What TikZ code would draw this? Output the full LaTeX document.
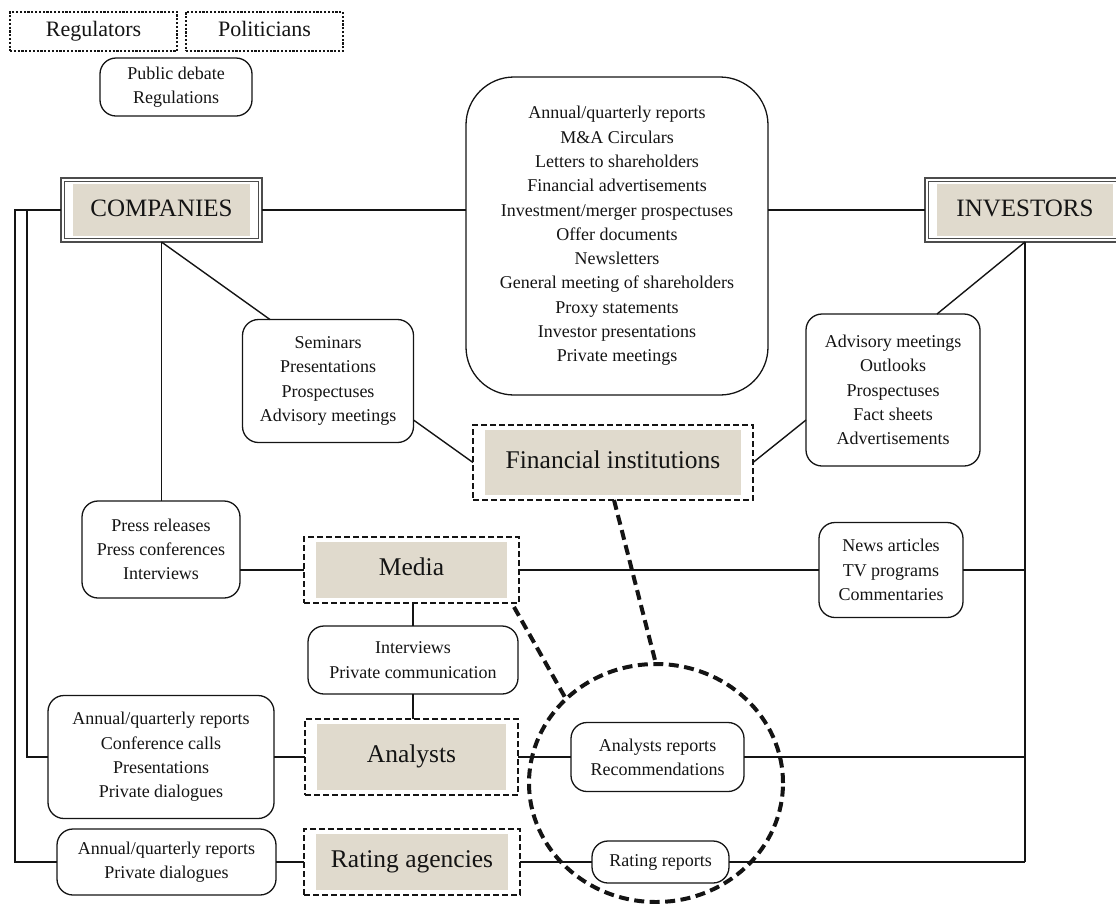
\documentclass[tikz,border=0pt]{standalone}
\usepackage{fontspec}
\setmainfont{Liberation Serif}
\usetikzlibrary{shapes.geometric,calc}
\definecolor{beige}{RGB}{224,218,205}
\definecolor{ink}{RGB}{20,20,20}
\begin{document}
\begin{tikzpicture}[x=1pt,y=-1pt,
  every node/.style={inner sep=0pt, outer sep=0pt, align=center, text=ink},
  sm/.style={font=\fontsize{18}{24.3}\selectfont},
  lg/.style={font=\fontsize{25.5}{30}\selectfont, text height=17pt, text depth=6pt},
  rbox/.style={sm, draw=ink, line width=1.3pt, rounded corners=16pt},
  dotbox/.style={font=\fontsize{22}{26}\selectfont, text height=15pt, text depth=5pt, draw=ink, line width=2.8pt, dash pattern=on 2.2pt off 1.6pt},
  dbox/.style={lg, draw=ink, line width=2.3pt, dash pattern=on 6pt off 3pt,
    path picture={\fill[beige] ([xshift=12pt,yshift=-5pt]path picture bounding box.north west) rectangle ([xshift=-12pt,yshift=5pt]path picture bounding box.south east);}},
  cbox/.style={font=\fontsize{25}{30}\selectfont, text height=17pt, text depth=5pt, draw=black!70, line width=2pt,
    path picture={\fill[beige] ([xshift=12pt,yshift=-6pt]path picture bounding box.north west) rectangle ([xshift=-12pt,yshift=6pt]path picture bounding box.south east);
      \draw[black!70, line width=1.2pt] ([xshift=3.8pt,yshift=-3.8pt]path picture bounding box.north west) rectangle ([xshift=-3.8pt,yshift=3.8pt]path picture bounding box.south east);}},
  ln/.style={draw=ink, line width=1.4pt},
  thickdash/.style={draw=ink, line width=4pt, dash pattern=on 10pt off 5.5pt}
]
\useasboundingbox (0,0) rectangle (1116,903);
\clip (0,0) rectangle (1116,903);

% nodes
\node[dotbox, minimum width=167pt, minimum height=39pt] (reg) at (93.5,31.5) {Regulators};
\node[dotbox, minimum width=157pt, minimum height=39pt] (pol) at (264.5,31.5) {Politicians};
\node[rbox, minimum width=152pt, minimum height=58pt] (pub) at (176,87) {Public debate\\Regulations};
\node[rbox, rounded corners=48pt, minimum width=302pt, minimum height=318pt] (big) at (617,236)
  {Annual/quarterly reports\\M\&A Circulars\\Letters to shareholders\\Financial advertisements\\Investment/merger prospectuses\\Offer documents\\Newsletters\\General meeting of shareholders\\Proxy statements\\Investor presentations\\Private meetings};
\node[cbox, minimum width=201pt, minimum height=64pt] (comp) at (161.5,210) {COMPANIES};
\node[cbox, minimum width=200pt, minimum height=64pt] (inv) at (1025,210) {INVESTORS};
\node[rbox, minimum width=171pt, minimum height=123pt] (sem) at (328,381) {Seminars\\Presentations\\Prospectuses\\Advisory meetings};
\node[rbox, minimum width=174pt, minimum height=152pt] (adv) at (893,390) {Advisory meetings\\Outlooks\\Prospectuses\\Fact sheets\\Advertisements};
\node[dbox, minimum width=280pt, minimum height=75pt] (fin) at (613,462.5) {Financial institutions};
\node[rbox, minimum width=158pt, minimum height=97pt] (press) at (161,549.5) {Press releases\\Press conferences\\Interviews};
\node[dbox, minimum width=215pt, minimum height=66pt] (media) at (411.5,570) {Media};
\node[rbox, minimum width=144pt, minimum height=95pt] (news) at (891,570) {News articles\\TV programs\\Commentaries};
\node[rbox, minimum width=210pt, minimum height=68pt] (intv) at (413,660) {Interviews\\Private communication};
\node[rbox, minimum width=226pt, minimum height=123pt] (ann1) at (161,757) {Annual/quarterly reports\\Conference calls\\Presentations\\Private dialogues};
\node[dbox, minimum width=213pt, minimum height=76pt] (anl) at (411.5,757) {Analysts};
\node[rbox, minimum width=173pt, minimum height=69pt] (arep) at (657.5,757) {Analysts reports\\Recommendations};
\node[rbox, minimum width=219pt, minimum height=66pt] (ann2) at (166.5,862) {Annual/quarterly reports\\Private dialogues};
\node[dbox, minimum width=216pt, minimum height=66pt] (rat) at (412,862) {Rating agencies};
\node[rbox, minimum width=137pt, minimum height=42pt] (rrep) at (660.5,862) {Rating reports};
\node[ellipse, thickdash, minimum width=254pt, minimum height=238pt] (circ) at (656,783) {};

% connectors
\draw[ln] (comp.east) -- (comp.east -| big.west);
\draw[ln] (big.east |- inv.west) -- (inv.west);
\draw[ln] (comp.west) -- ++(-34,0) |- (ann1.west);
\draw[ln] (comp.west) -- ++(-46,0) |- (ann2.west);
\draw[ln] (comp.south) -- (comp.south |- press.north);
\draw[ln] (comp.south) -- ([xshift=-58pt]sem.north);
\draw[ln] ([yshift=-39pt]sem.east) -- (fin.west);
\draw[ln] ([yshift=-30pt]adv.west) -- (fin.east);
\draw[ln] (inv.south) -- ([xshift=44pt]adv.north);
\draw[ln, line width=1.7pt] (inv.south) -- (inv.south |- rrep.east);
\draw[ln] (news.east) -- (news.east -| inv.south);
\draw[ln] (arep.east) -- (arep.east -| inv.south);
\draw[ln] (rrep.east) -- (rrep.east -| inv.south);
\draw[ln] (media.west -| press.east) -- (media.west);
\draw[ln] (media.east) -- (news.west);
\draw[ln] (media.south -| intv.north) -- (intv.north);
\draw[ln] (intv.south) -- (intv.south |- anl.north);
\draw[ln] (ann1.east) -- (anl.west);
\draw[ln] (anl.east) -- (arep.west);
\draw[ln] (ann2.east) -- (rat.west);
\draw[ln] (rat.east) -- (rrep.west);
\draw[thickdash] ([xshift=1pt]fin.south) -- (circ.north);
\draw[thickdash] ([xshift=-5pt,yshift=-4pt]media.south east) -- (circ.137);
\end{tikzpicture}
\end{document}
